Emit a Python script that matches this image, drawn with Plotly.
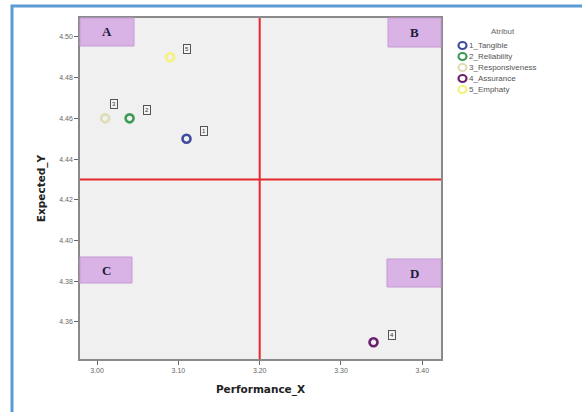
import plotly.graph_objects as go

series_names = ["1_Tangible", "2_Reliability", "3_Responsiveness", "4_Assurance", "5_Emphaty"]
point_labels = ["1", "2", "3", "4", "5"]
performance_x = [3.11, 3.04, 3.01, 3.34, 3.09]
expected_y = [4.45, 4.46, 4.46, 4.35, 4.49]
series_colors = ["#3f4c9e", "#3d9a55", "#deddb6", "#6a1f6e", "#f3f27c"]
quadrant_letters = ["A", "B", "C", "D"]
x_cut = 3.20
y_cut = 4.43

fig = go.Figure()
for name, x, y, c in zip(series_names, performance_x, expected_y, series_colors):
    fig.add_trace(go.Scatter(
        x=[x], y=[y], mode="markers", name=name, showlegend=False,
        marker=dict(symbol="circle-open", size=8, color=c, line=dict(width=2.6, color=c)),
    ))

# plot geometry
L, R, T, B = 80, 141, 18, 53
W, H = 582 - L - R, 412 - T - B

def px2paper_x(px):
    return (px - L) / W

def px2paper_y(py):
    return 1 - (py - T) / H

shapes = []
annotations = []

# red quadrant lines
shapes.append(dict(type="line", xref="x", yref="paper", x0=x_cut, x1=x_cut, y0=0, y1=1,
                   line=dict(color="#e6262c", width=2)))
shapes.append(dict(type="line", xref="paper", yref="y", x0=0, x1=1, y0=y_cut, y1=y_cut,
                   line=dict(color="#e6262c", width=2)))

# quadrant boxes (pixel boxes)
boxes = [(80, 134, 18, 46), (388, 441, 18, 47), (80, 132, 257, 283), (387, 441, 259, 287)]
for letter, (x0, x1, y0, y1) in zip(quadrant_letters, boxes):
    shapes.append(dict(type="rect", xref="paper", yref="paper",
                       x0=px2paper_x(x0), x1=px2paper_x(x1), y0=px2paper_y(y1), y1=px2paper_y(y0),
                       fillcolor="#d9b2e6", line=dict(color="#c69ad6", width=1)))
    annotations.append(dict(xref="paper", yref="paper", x=px2paper_x((x0 + x1) / 2),
                            y=px2paper_y((y0 + y1) / 2), text="<b>%s</b>" % letter, showarrow=False,
                            font=dict(family="Liberation Serif, DejaVu Serif, serif", size=13, color="#1c1c3c"),
                            xanchor="center", yanchor="middle"))

# point labels (boxed)
offsets = {"1": (17, 8), "2": (17, 8), "3": (9, 14), "4": (18, 7), "5": (17, 8)}
for lab, x, y in zip(point_labels, performance_x, expected_y):
    dx, dy = offsets[lab]
    annotations.append(dict(x=x, y=y, xref="x", yref="y", text=lab, showarrow=False,
                            xshift=dx, yshift=dy, font=dict(size=6, color="#333"),
                            bordercolor="#555", borderwidth=1, borderpad=1, bgcolor="#f4f4f4"))

# blue outer frame
shapes.append(dict(type="rect", xref="paper", yref="paper", x0=px2paper_x(12), x1=px2paper_x(640),
                   y0=px2paper_y(470), y1=px2paper_y(6), line=dict(color="#5b9bd5", width=3),
                   layer="below"))

# manual legend
annotations.append(dict(xref="paper", yref="paper", x=px2paper_x(503), y=px2paper_y(32), text="Atribut",
                        showarrow=False, font=dict(size=8, color="#666"), xanchor="center", yanchor="middle"))
for i, (name, c) in enumerate(zip(series_names, series_colors)):
    cy = 45.5 + i * 11
    shapes.append(dict(type="circle", xref="paper", yref="paper",
                       x0=px2paper_x(458.5), x1=px2paper_x(466.5), y0=px2paper_y(cy + 3.5), y1=px2paper_y(cy - 3.5),
                       line=dict(color=c, width=2.2), fillcolor="rgba(0,0,0,0)"))
    annotations.append(dict(xref="paper", yref="paper", x=px2paper_x(467), y=px2paper_y(cy), text=name,
                            showarrow=False, font=dict(size=8, color="#555"), xanchor="left", yanchor="middle"))

fig.update_layout(
    width=582, height=412,
    margin=dict(l=L, r=R, t=T, b=B),
    paper_bgcolor="white", plot_bgcolor="#f0f0f0",
    font=dict(family="Liberation Sans, Arial, sans-serif"),
    shapes=shapes, annotations=annotations, showlegend=False,
)
title_font = dict(family="DejaVu Sans, sans-serif", size=10.5, color="#222")
fig.update_xaxes(range=[2.979, 3.423], dtick=0.1, tick0=3.0, tickformat=".2f", showgrid=False, zeroline=False,
                 showline=True, linecolor="#8a8a8a", linewidth=1.5, mirror=True, ticks="outside", ticklen=4,
                 tickcolor="#666", tickfont=dict(size=7, color="#666"),
                 title=dict(text="<b>Performance_X</b>", font=title_font, standoff=12))
fig.update_yaxes(range=[4.3418, 4.5093], dtick=0.02, tick0=4.36, tickformat=".2f", showgrid=False, zeroline=False,
                 showline=True, linecolor="#8a8a8a", linewidth=1.5, mirror=True, ticks="outside", ticklen=4,
                 tickcolor="#666", tickfont=dict(size=7, color="#666"),
                 title=dict(text="<b>Expected_Y</b>", font=title_font, standoff=12))

fig.write_html("out.html", config={"displayModeBar": False})

with open("out.html", "r", encoding="utf-8") as f:
    html = f.read()
html = html.replace("<head>", "<head><style>html,body{margin:0;padding:0;overflow:hidden;}</style>", 1)
with open("out.html", "w", encoding="utf-8") as f:
    f.write(html)
